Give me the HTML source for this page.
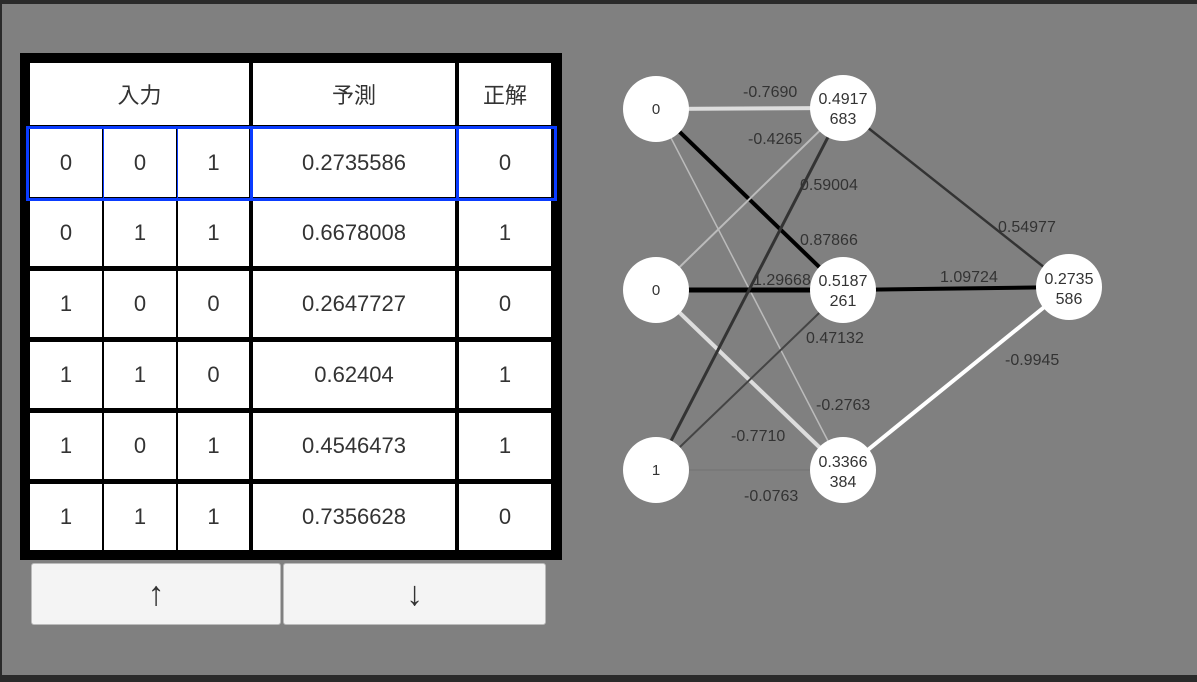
<!DOCTYPE html>
<html><head><meta charset="utf-8"><style>
body{margin:0;width:1197px;height:682px;background:#808080;position:relative;overflow:hidden;font-family:"Liberation Sans","Noto Sans CJK JP",sans-serif;}
.a{position:absolute}
.c{position:absolute;background:#fff;color:#333;font-size:22px;display:flex;align-items:center;justify-content:center}
.btn{position:absolute;background:#f4f4f4;border:1px solid #bbb;border-radius:3px;display:flex;align-items:center;justify-content:center;font-size:34px;color:#333}
</style></head><body>
<div class="a" style="left:0;top:0;width:1197px;height:4px;background:#2a2a2a"></div>
<div class="a" style="left:0;top:0;width:2px;height:682px;background:#2a2a2a"></div>
<div class="a" style="left:0;top:675px;width:1197px;height:7px;background:#2a2a2a"></div>
<div class="a" style="left:20px;top:53px;width:542px;height:507px;background:#000"></div>
<div class="c" style="left:30px;top:63px;width:219px;height:62px">入力</div>
<div class="c" style="left:253px;top:63px;width:202px;height:62px">予測</div>
<div class="c" style="left:459px;top:63px;width:92px;height:62px">正解</div>
<div id="rows"></div>
<script>
var d=[["0","0","1","0.2735586","0"],["0","1","1","0.6678008","1"],["1","0","0","0.2647727","0"],["1","1","0","0.62404","1"],["1","0","1","0.4546473","1"],["1","1","1","0.7356628","0"]];
var ys=[[129,197],[200,266],[271,337],[342,408],[413,479],[484,550]];
var xs=[[30,102],[104,176],[178,249],[253,455],[459,551]];
var h="";
for(var r=0;r<6;r++)for(var c=0;c<5;c++){h+='<div class="c" style="left:'+xs[c][0]+'px;top:'+ys[r][0]+'px;width:'+(xs[c][1]-xs[c][0])+'px;height:'+(ys[r][1]-ys[r][0])+'px">'+d[r][c]+'</div>';}
document.getElementById("rows").innerHTML=h;
</script>
<div class="a" style="left:26px;top:126px;width:525px;height:69px;border:3px solid #0a3cff"></div>
<div class="a" style="left:103px;top:129px;width:1px;height:69px;background:#0a3cff"></div>
<div class="a" style="left:177px;top:129px;width:1px;height:69px;background:#0a3cff"></div>
<div class="a" style="left:250px;top:129px;width:3px;height:69px;background:#0a3cff"></div>
<div class="a" style="left:456px;top:129px;width:3px;height:69px;background:#0a3cff"></div>
<div class="btn" style="left:31px;top:563px;width:248px;height:60px">↑</div>
<div class="btn" style="left:283px;top:563px;width:261px;height:60px">↓</div>
<svg class="a" style="left:0;top:0" width="1197" height="682" font-family="Liberation Sans, sans-serif">
<g stroke-linecap="butt">
<line x1="656" y1="109" x2="843" y2="108" stroke="#ddd" stroke-width="4"/>
<line x1="656" y1="109" x2="843" y2="290" stroke="#000" stroke-width="4"/>
<line x1="656" y1="109" x2="843" y2="470" stroke="#bbb" stroke-width="1.5"/>
<line x1="656" y1="290" x2="843" y2="108" stroke="#bbb" stroke-width="2"/>
<line x1="656" y1="290" x2="843" y2="290" stroke="#000" stroke-width="5"/>
<line x1="656" y1="290" x2="843" y2="470" stroke="#ddd" stroke-width="4"/>
<line x1="656" y1="470" x2="843" y2="108" stroke="#333" stroke-width="3"/>
<line x1="656" y1="470" x2="843" y2="290" stroke="#444" stroke-width="2"/>
<line x1="656" y1="470" x2="843" y2="470" stroke="#777" stroke-width="1.5"/>
<line x1="843" y1="108" x2="1069" y2="287" stroke="#333" stroke-width="2.5"/>
<line x1="843" y1="290" x2="1069" y2="287" stroke="#000" stroke-width="4"/>
<line x1="843" y1="470" x2="1069" y2="287" stroke="#fff" stroke-width="4"/>
</g>
<g fill="#fff">
<circle cx="656" cy="109" r="33"/><circle cx="656" cy="290" r="33"/><circle cx="656" cy="470" r="33"/>
<circle cx="843" cy="108" r="33"/><circle cx="843" cy="290" r="33"/><circle cx="843" cy="470" r="33"/>
<circle cx="1069" cy="287" r="33"/>
</g>
<g fill="#333" font-size="15" text-anchor="middle">
<text x="656" y="114">0</text><text x="656" y="295">0</text><text x="656" y="475">1</text>
</g>
<g fill="#333" font-size="16" text-anchor="middle">
<text x="843" y="104">0.4917</text><text x="843" y="124">683</text>
<text x="843" y="286">0.5187</text><text x="843" y="306">261</text>
<text x="843" y="467">0.3366</text><text x="843" y="487">384</text>
<text x="1069" y="284">0.2735</text><text x="1069" y="304">586</text>
</g>
<g fill="#333" font-size="16">
<text x="743" y="97">-0.7690</text>
<text x="748" y="144">-0.4265</text>
<text x="800" y="190">0.59004</text>
<text x="800" y="245">0.87866</text>
<text x="753" y="285">1.29668</text>
<text x="806" y="343">0.47132</text>
<text x="816" y="410">-0.2763</text>
<text x="731" y="441">-0.7710</text>
<text x="744" y="501">-0.0763</text>
<text x="998" y="232">0.54977</text>
<text x="940" y="282">1.09724</text>
<text x="1005" y="365">-0.9945</text>
</g>
</svg>
</body></html>
